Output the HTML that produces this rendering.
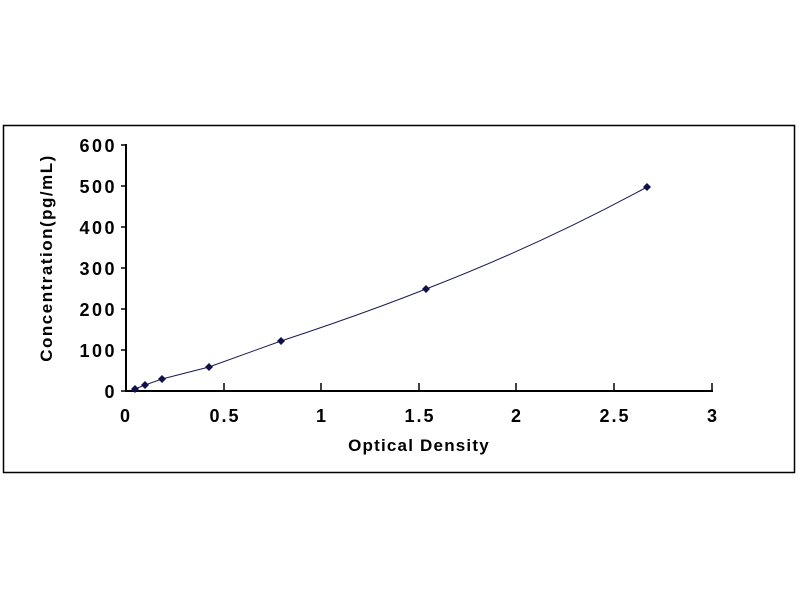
<!DOCTYPE html><html><head><style>body{margin:0;background:#fff}</style></head><body>
<svg width="800" height="600" xmlns="http://www.w3.org/2000/svg" font-family="Liberation Sans, sans-serif" font-weight="bold">
<rect x="3.5" y="125.5" width="791" height="347" fill="#fff" stroke="#000" stroke-width="1.5"/>
<g stroke="#000" stroke-width="2">
<line x1="126" y1="144" x2="126" y2="392"/>
<line x1="125" y1="391" x2="713" y2="391"/>
</g>
<g stroke="#000" stroke-width="1.5">
<line x1="121" y1="145" x2="126" y2="145"/><line x1="121" y1="186" x2="126" y2="186"/><line x1="121" y1="227" x2="126" y2="227"/><line x1="121" y1="268" x2="126" y2="268"/><line x1="121" y1="309" x2="126" y2="309"/><line x1="121" y1="350" x2="126" y2="350"/><line x1="121" y1="391" x2="126" y2="391"/>
<line x1="224" y1="383" x2="224" y2="391"/><line x1="321" y1="383" x2="321" y2="391"/><line x1="419" y1="383" x2="419" y2="391"/><line x1="516" y1="383" x2="516" y2="391"/><line x1="614" y1="383" x2="614" y2="391"/><line x1="712" y1="383" x2="712" y2="391"/>
</g>
<g font-size="18" text-anchor="end" letter-spacing="2.5">
<text x="117" y="152">600</text><text x="117" y="193">500</text><text x="117" y="234">400</text><text x="117" y="275">300</text><text x="117" y="316">200</text><text x="117" y="357">100</text><text x="117" y="398">0</text>
</g>
<g font-size="18" text-anchor="middle" letter-spacing="2">
<text x="126" y="422">0</text><text x="225" y="422">0.5</text><text x="322" y="422">1</text><text x="420" y="422">1.5</text><text x="517" y="422">2</text><text x="615" y="422">2.5</text><text x="713" y="422">3</text>
</g>
<text x="419" y="451" font-size="17" text-anchor="middle" letter-spacing="1.2">Optical Density</text>
<text transform="translate(52,258) rotate(-90)" font-size="17" text-anchor="middle" letter-spacing="1.5">Concentration(pg/mL)</text>
<path d="M135,389 L145,385 L162,379 L209,367 Q245,354 281,341 Q360,315 426,289 Q540,245 647,187" fill="none" stroke="#1a1a50" stroke-width="1"/>
<g fill="#10104a">
<path d="M135,385 l4,4 l-4,4 l-4,-4z"/><path d="M145,381 l4,4 l-4,4 l-4,-4z"/><path d="M162,375 l4,4 l-4,4 l-4,-4z"/><path d="M209,363 l4,4 l-4,4 l-4,-4z"/><path d="M281,337 l4,4 l-4,4 l-4,-4z"/><path d="M426,285 l4,4 l-4,4 l-4,-4z"/><path d="M647,183 l4,4 l-4,4 l-4,-4z"/>
</g>
</svg>
</body></html>
